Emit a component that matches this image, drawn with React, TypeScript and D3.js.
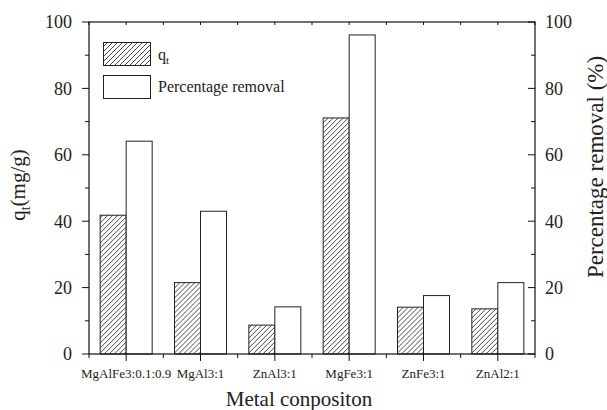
import React, { useEffect, useRef } from "react";
import * as d3 from "d3";

const categories = ["MgAlFe3:0.1:0.9", "MgAl3:1", "ZnAl3:1", "MgFe3:1", "ZnFe3:1", "ZnAl2:1"];
const qtValues = [41.8, 21.5, 8.7, 71.1, 14.1, 13.6];
const removalValues = [64.1, 43.0, 14.2, 96.1, 17.6, 21.5];
const yTicks = [0, 20, 40, 60, 80, 100];
const yMinorTicks = [10, 30, 50, 70, 90];

const FONT = "'Liberation Serif', 'Times New Roman', serif";

const App: React.FC = () => {
  const svgRef = useRef<SVGSVGElement | null>(null);

  useEffect(() => {
    if (!svgRef.current) return;

    const width = 607;
    const height = 410;
    const margin = { top: 22, right: 72, bottom: 56, left: 89 };
    const innerWidth = width - margin.left - margin.right;
    const innerHeight = height - margin.top - margin.bottom;

    const root = d3.select(svgRef.current);
    root.selectAll("*").remove();
    root.attr("width", width).attr("height", height);

    // hatch pattern for q_t bars
    const defs = root.append("defs");
    const pat = defs
      .append("pattern")
      .attr("id", "hatch")
      .attr("patternUnits", "userSpaceOnUse")
      .attr("width", 5)
      .attr("height", 5);
    pat.append("rect").attr("width", 5).attr("height", 5).attr("fill", "#fff");
    pat
      .append("path")
      .attr("d", "M-1,1 l2,-2 M0,5 l5,-5 M4,6 l2,-2")
      .attr("stroke", "#333")
      .attr("stroke-width", 0.9);

    const svg = root.append("g").attr("transform", `translate(${margin.left},${margin.top})`);

    const x = d3.scaleBand().domain(categories).range([0, innerWidth]).padding(0);
    const y = d3.scaleLinear().domain([0, 100]).range([innerHeight, 0]);
    const barW = 26;

    // bars
    const groups = svg
      .selectAll("g.cat")
      .data(categories)
      .enter()
      .append("g")
      .attr("class", "cat")
      .attr("transform", d => `translate(${x(d)! + x.bandwidth() / 2},0)`);

    groups
      .append("rect")
      .attr("x", -barW)
      .attr("y", (_, i) => y(qtValues[i]))
      .attr("width", barW)
      .attr("height", (_, i) => innerHeight - y(qtValues[i]))
      .attr("fill", "url(#hatch)")
      .attr("stroke", "#222")
      .attr("stroke-width", 1);

    groups
      .append("rect")
      .attr("x", 0)
      .attr("y", (_, i) => y(removalValues[i]))
      .attr("width", barW)
      .attr("height", (_, i) => innerHeight - y(removalValues[i]))
      .attr("fill", "#fff")
      .attr("stroke", "#222")
      .attr("stroke-width", 1);

    // frame
    svg
      .append("rect")
      .attr("width", innerWidth)
      .attr("height", innerHeight)
      .attr("fill", "none")
      .attr("stroke", "#111")
      .attr("stroke-width", 1.2);

    const tickColor = "#111";

    // left axis
    const left = svg.append("g");
    yTicks.forEach(t => {
      left.append("line").attr("x1", -7).attr("x2", 0).attr("y1", y(t)).attr("y2", y(t)).attr("stroke", tickColor);
      left
        .append("text")
        .attr("x", -17)
        .attr("y", y(t))
        .attr("dy", "0.35em")
        .attr("text-anchor", "end")
        .attr("font-family", FONT)
        .attr("font-size", 18)
        .attr("fill", "#222")
        .text(t);
    });
    yMinorTicks.forEach(t => {
      left.append("line").attr("x1", -4).attr("x2", 0).attr("y1", y(t)).attr("y2", y(t)).attr("stroke", tickColor);
    });

    // right axis
    const right = svg.append("g").attr("transform", `translate(${innerWidth},0)`);
    yTicks.forEach(t => {
      right.append("line").attr("x1", -7).attr("x2", 0).attr("y1", y(t)).attr("y2", y(t)).attr("stroke", tickColor);
      right
        .append("text")
        .attr("x", 10)
        .attr("y", y(t))
        .attr("dy", "0.35em")
        .attr("text-anchor", "start")
        .attr("font-family", FONT)
        .attr("font-size", 18)
        .attr("fill", "#222")
        .text(t);
    });
    yMinorTicks.forEach(t => {
      right.append("line").attr("x1", -4).attr("x2", 0).attr("y1", y(t)).attr("y2", y(t)).attr("stroke", tickColor);
    });

    // bottom and top ticks
    const bounds = d3.range(categories.length + 1).map(i => i * x.step());
    categories.forEach(c => {
      const cx = x(c)! + x.bandwidth() / 2;
      svg.append("line").attr("x1", cx).attr("x2", cx).attr("y1", innerHeight).attr("y2", innerHeight + 7).attr("stroke", tickColor);
      svg.append("line").attr("x1", cx).attr("x2", cx).attr("y1", 0).attr("y2", 3).attr("stroke", tickColor);
      svg
        .append("text")
        .attr("x", cx)
        .attr("y", innerHeight + 24)
        .attr("text-anchor", "middle")
        .attr("font-family", FONT)
        .attr("font-size", 13)
        .attr("fill", "#222")
        .text(c);
    });
    bounds.forEach(bx => {
      svg.append("line").attr("x1", bx).attr("x2", bx).attr("y1", innerHeight).attr("y2", innerHeight + 4).attr("stroke", tickColor);
      svg.append("line").attr("x1", bx).attr("x2", bx).attr("y1", 0).attr("y2", 3).attr("stroke", tickColor);
    });

    // axis titles
    root
      .append("text")
      .attr("transform", `translate(25,${185}) rotate(-90)`)
      .attr("text-anchor", "middle")
      .attr("font-family", FONT)
      .attr("font-size", 21)
      .attr("fill", "#222")
      .html("q<tspan font-size='14' dy='5'>t</tspan><tspan dy='-5'>(mg/g)</tspan>");

    root
      .append("text")
      .attr("transform", `translate(603,${167}) rotate(-90)`)
      .attr("text-anchor", "middle")
      .attr("font-family", FONT)
      .attr("font-size", 23)
      .attr("fill", "#222")
      .text("Percentage removal (%)");

    root
      .append("text")
      .attr("x", 299)
      .attr("y", 406)
      .attr("text-anchor", "middle")
      .attr("font-family", FONT)
      .attr("font-size", 21)
      .attr("fill", "#222")
      .text("Metal conpositon");

    // legend
    const legend = root.append("g");
    legend
      .append("rect")
      .attr("x", 103.5)
      .attr("y", 42.5)
      .attr("width", 47)
      .attr("height", 23)
      .attr("fill", "url(#hatch)")
      .attr("stroke", "#222");
    legend
      .append("text")
      .attr("x", 158)
      .attr("y", 60)
      .attr("font-family", FONT)
      .attr("font-size", 16)
      .attr("fill", "#222")
      .html("q<tspan font-size='11' dy='4'>t</tspan>");
    legend
      .append("rect")
      .attr("x", 103.5)
      .attr("y", 75.5)
      .attr("width", 47)
      .attr("height", 23)
      .attr("fill", "#fff")
      .attr("stroke", "#222");
    legend
      .append("text")
      .attr("x", 158)
      .attr("y", 92)
      .attr("font-family", FONT)
      .attr("font-size", 16)
      .attr("fill", "#222")
      .text("Percentage removal");
  }, []);

  return <svg ref={svgRef} style={{ position: "absolute", left: 0, top: 0, background: "#fff" }}></svg>;
};

export default App;
